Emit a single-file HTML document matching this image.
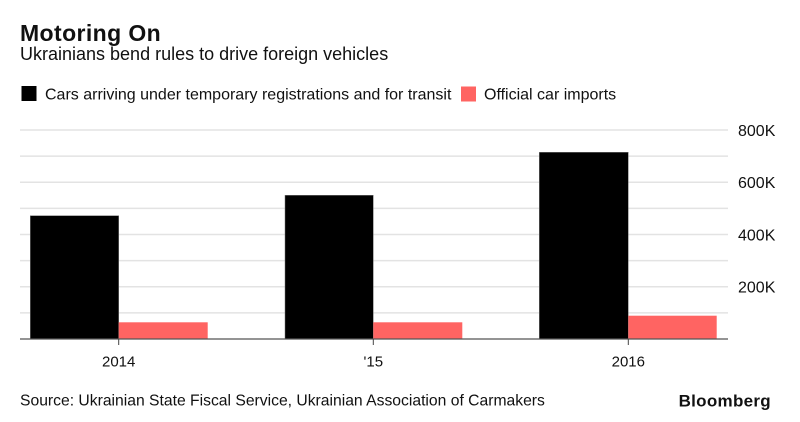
<!DOCTYPE html>
<html>
<head>
<meta charset="utf-8">
<style>
  html, body { margin: 0; padding: 0; background: #ffffff; }
  body { width: 800px; height: 422px; overflow: hidden; }
  svg { display: block; }
  text { font-family: "Liberation Sans", Arial, sans-serif; fill: #111; }
</style>
</head>
<body>
<svg width="800" height="422" viewBox="0 0 800 422" xmlns="http://www.w3.org/2000/svg">
  <rect x="0" y="0" width="800" height="422" fill="#ffffff"/>

  <!-- Title -->
  <text x="20" y="41" font-size="23" font-weight="bold" letter-spacing="0.4" fill="#000">Motoring On</text>
  <text x="20" y="60" font-size="18" fill="#111">Ukrainians bend rules to drive foreign vehicles</text>

  <!-- Legend -->
  <rect x="21.5" y="86" width="15" height="15" fill="#000"/>
  <text x="45" y="99.5" font-size="16" fill="#111">Cars arriving under temporary registrations and for transit</text>
  <rect x="461" y="86.5" width="15" height="15" fill="#ff6462"/>
  <text x="484" y="99.5" font-size="16" fill="#111">Official car imports</text>

  <!-- Gridlines -->
  <g stroke="#e3e3e3" stroke-width="1.5">
    <line x1="20" y1="130" x2="728" y2="130"/>
    <line x1="20" y1="156.1" x2="728" y2="156.1"/>
    <line x1="20" y1="182.3" x2="728" y2="182.3"/>
    <line x1="20" y1="208.4" x2="728" y2="208.4"/>
    <line x1="20" y1="234.5" x2="728" y2="234.5"/>
    <line x1="20" y1="260.6" x2="728" y2="260.6"/>
    <line x1="20" y1="286.8" x2="728" y2="286.8"/>
    <line x1="20" y1="312.9" x2="728" y2="312.9"/>
  </g>

  <!-- Y labels -->
  <g font-size="16" fill="#111">
    <text x="738" y="136">800K</text>
    <text x="738" y="188.2">600K</text>
    <text x="738" y="240.4">400K</text>
    <text x="738" y="292.6">200K</text>
  </g>

  <!-- Bars -->
  <g>
    <rect x="30.3" y="215.7" width="88.4" height="123.3" fill="#000" stroke="#777" stroke-width="0.5"/>
    <rect x="118.7" y="322.3" width="89" height="16.7" fill="#ff6462"/>

    <rect x="285" y="195.3" width="88.3" height="143.7" fill="#000" stroke="#777" stroke-width="0.5"/>
    <rect x="373.3" y="322.3" width="89" height="16.7" fill="#ff6462"/>

    <rect x="539.3" y="152.3" width="89" height="186.7" fill="#000" stroke="#777" stroke-width="0.5"/>
    <rect x="628.3" y="315.7" width="88.4" height="23.3" fill="#ff6462"/>
  </g>

  <!-- Axis -->
  <line x1="20" y1="339" x2="728" y2="339" stroke="#555" stroke-width="1.2"/>
  <g stroke="#444" stroke-width="1">
    <line x1="118.7" y1="339" x2="118.7" y2="345"/>
    <line x1="373.3" y1="339" x2="373.3" y2="345"/>
    <line x1="628.3" y1="339" x2="628.3" y2="345"/>
  </g>

  <!-- X labels -->
  <g font-size="15" fill="#111" text-anchor="middle">
    <text x="118.7" y="366.7">2014</text>
    <text x="373.3" y="366.7">'15</text>
    <text x="628.3" y="366.7">2016</text>
  </g>

  <!-- Footer -->
  <text x="20" y="405.3" font-size="15.7" fill="#111">Source: Ukrainian State Fiscal Service, Ukrainian Association of Carmakers</text>
  <text x="771" y="406.7" font-size="17" font-weight="bold" letter-spacing="0.3" text-anchor="end" fill="#000">Bloomberg</text>
</svg>
</body>
</html>
